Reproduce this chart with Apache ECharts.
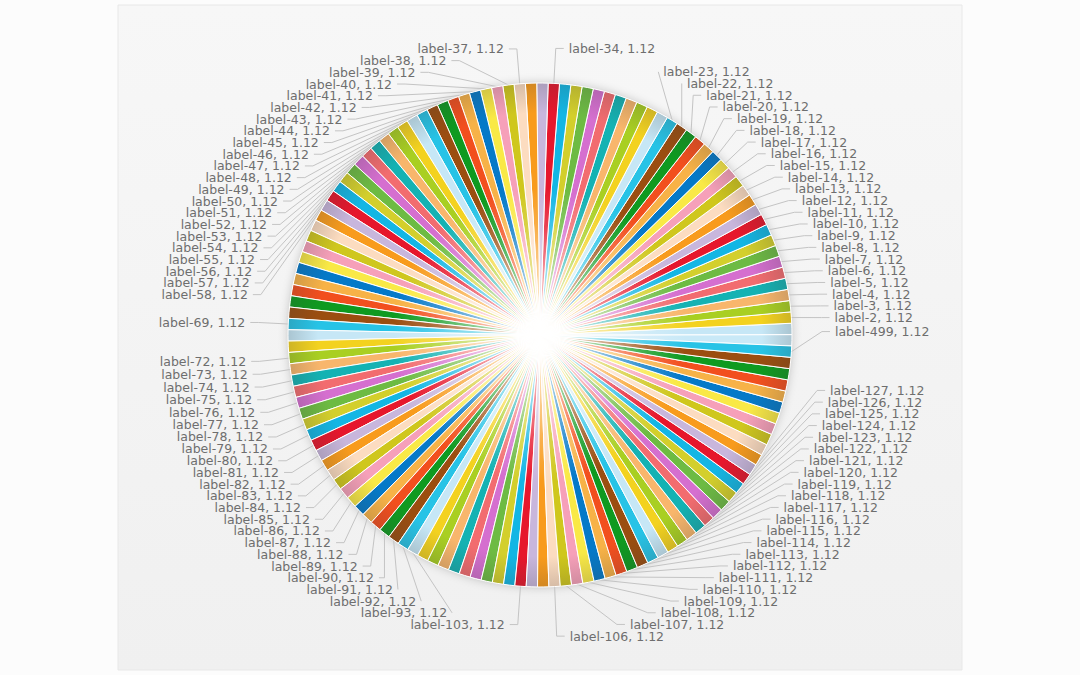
<!DOCTYPE html>
<html><head><meta charset="utf-8">
<script src="https://cdn.jsdelivr.net/npm/echarts@6/dist/echarts.min.js"></script>
<style>html,body{margin:0;padding:0;background:#fcfcfc;}#c{width:1080px;height:675px;}</style>
</head><body><div id="c"></div>
<script>
// slice names in drawing order (counter-clockwise from 3 o'clock)
const categories = [
 'label-0','label-1','label-2','label-3','label-4','label-5','label-6','label-7','label-8','label-9',
 'label-10','label-11','label-12','label-13','label-14','label-15','label-16','label-17','label-18','label-19',
 'label-20','label-21','label-22','label-23','label-24','label-25','label-26','label-27','label-28','label-29',
 'label-30','label-31','label-32','label-33','label-34','label-35','label-36','label-37','label-38','label-39',
 'label-40','label-41','label-42','label-43','label-44','label-45','label-46','label-47','label-48','label-49',
 'label-50','label-51','label-52','label-53','label-54','label-55','label-56','label-57','label-58','label-59',
 'label-60','label-61','label-62','label-63','label-64','label-65','label-66','label-67','label-68','label-69',
 'label-70','label-71','label-72','label-73','label-74','label-75','label-76','label-77','label-78','label-79',
 'label-80','label-81','label-82','label-83','label-84','label-85','label-86','label-87','label-88','label-89',
 'label-90','label-91','label-92','label-93','label-94','label-95','label-96','label-97','label-98','label-99',
 'label-100','label-101','label-102','label-103','label-104','label-105','label-106','label-107','label-108','label-109',
 'label-110','label-111','label-112','label-113','label-114','label-115','label-116','label-117','label-118','label-119',
 'label-120','label-121','label-122','label-123','label-124','label-125','label-126','label-127','label-128','label-129',
 'label-130','label-131','label-132','label-133','label-134','label-135','label-136','label-137','label-499'
];
const values = [
 1.12,1.12,1.12,1.12,1.12,1.12,1.12,1.12,1.12,1.12,
 1.12,1.12,1.12,1.12,1.12,1.12,1.12,1.12,1.12,1.12,
 1.12,1.12,1.12,1.12,1.12,1.12,1.12,1.12,1.12,1.12,
 1.12,1.12,1.12,1.12,1.12,1.12,1.12,1.12,1.12,1.12,
 1.12,1.12,1.12,1.12,1.12,1.12,1.12,1.12,1.12,1.12,
 1.12,1.12,1.12,1.12,1.12,1.12,1.12,1.12,1.12,1.12,
 1.12,1.12,1.12,1.12,1.12,1.12,1.12,1.12,1.12,1.12,
 1.12,1.12,1.12,1.12,1.12,1.12,1.12,1.12,1.12,1.12,
 1.12,1.12,1.12,1.12,1.12,1.12,1.12,1.12,1.12,1.12,
 1.12,1.12,1.12,1.12,1.12,1.12,1.12,1.12,1.12,1.12,
 1.12,1.12,1.12,1.12,1.12,1.12,1.12,1.12,1.12,1.12,
 1.12,1.12,1.12,1.12,1.12,1.12,1.12,1.12,1.12,1.12,
 1.12,1.12,1.12,1.12,1.12,1.12,1.12,1.12,1.12,1.12,
 1.12,1.12,1.12,1.12,1.12,1.12,1.12,1.12,1.12
];
// labels that are visible in the picture (the rest are suppressed)
const shownLabels = [
 'label-2','label-3','label-4','label-5','label-6','label-7','label-8','label-9','label-10','label-11',
 'label-12','label-13','label-14','label-15','label-16','label-17','label-18','label-19','label-20','label-21',
 'label-22','label-23','label-34','label-37','label-38','label-39','label-40','label-41','label-42','label-43',
 'label-44','label-45','label-46','label-47','label-48','label-49','label-50','label-51','label-52','label-53',
 'label-54','label-55','label-56','label-57','label-58','label-69','label-72','label-73','label-74','label-75',
 'label-76','label-77','label-78','label-79','label-80','label-81','label-82','label-83','label-84','label-85',
 'label-86','label-87','label-88','label-89','label-90','label-91','label-92','label-93','label-103','label-106',
 'label-107','label-108','label-109','label-110','label-111','label-112','label-113','label-114','label-115','label-116',
 'label-117','label-118','label-119','label-120','label-121','label-122','label-123','label-124','label-125','label-126',
 'label-127','label-499'
];
const palette = [
 '#27c3e6','#c6e7f6','#f3d21f','#a9cf22','#f8b66c','#14b2b3','#f26c6f','#d56fcf','#6dbb43','#d3cf2c',
 '#13b6e4','#e6172c','#c8b6dc','#f89b1d','#fcdcc0','#cfc71d','#f6a0b9','#f9e946','#0579c8','#f7b247',
 '#f24f1e','#0f9a20','#9b4e10'
];
const overrideColors = { 'label-0': '#c9e9f7' };

const CX = 540, CY = 335, R = 252;

function mix(hex, t, target) {
  const n = parseInt(hex.slice(1), 16);
  const r = (n >> 16) & 255, g = (n >> 8) & 255, b = n & 255;
  const f = (a, c) => Math.round(a + (c - a) * t);
  return 'rgb(' + f(r, target[0]) + ',' + f(g, target[1]) + ',' + f(b, target[2]) + ')';
}
function sliceColor(base) {
  return {
    type: 'radial', x: CX, y: CY, r: R, global: true,
    colorStops: [
      { offset: 0, color: '#fffaf2' },
      { offset: 0.08, color: mix(base, 0.9, [255, 250, 242]) },
      { offset: 0.22, color: mix(base, 0.6, [255, 252, 248]) },
      { offset: 0.42, color: mix(base, 0.2, [255, 255, 255]) },
      { offset: 0.58, color: base },
      { offset: 0.88, color: base },
      { offset: 1, color: mix(base, 0.2, [60, 60, 60]) }
    ]
  };
}

const pieData = categories.map((name, i) => {
  const show = shownLabels.indexOf(name) >= 0;
  const base = overrideColors[name] || palette[i % palette.length];
  return {
    name: name, value: values[i],
    itemStyle: { color: sliceColor(base) },
    label: { show: show },
    labelLine: { show: show }
  };
});

const chart = echarts.init(document.getElementById('c'), null, { renderer: 'svg' });
chart.setOption({
  backgroundColor: '#fcfcfc',
  animation: false,
  graphic: [{
    type: 'rect', z: -10, silent: true,
    shape: { x: 118, y: 5, width: 844, height: 665 },
    style: {
      fill: { type: 'linear', x: 0, y: 0, x2: 0, y2: 1, colorStops: [
        { offset: 0, color: '#f7f7f7' }, { offset: 1, color: '#f0f0f0' }] },
      stroke: '#e8e8e8', lineWidth: 1
    }
  }],
  series: [
    {
      type: 'pie', silent: true, z: 1,
      left: 0, top: 0, width: 1080, height: 642,
      center: [CX, CY], radius: R,
      label: { show: false }, labelLine: { show: false },
      itemStyle: { color: '#ffffff', shadowBlur: 10, shadowColor: 'rgba(0,0,0,0.22)' },
      emphasis: { disabled: true },
      data: [{ name: 'shadow', value: 1 }]
    },
    {
      type: 'pie', z: 2,
      left: 0, top: 0, width: 1080, height: 642,
      center: [CX, CY], radius: R,
      startAngle: -2.5, clockwise: false,
      avoidLabelOverlap: true,
      emphasis: { disabled: true },
      itemStyle: { borderColor: '#ffffff', borderWidth: 1 },
      label: {
        position: 'outside', formatter: '{b}, {c}',
        color: '#6e6e6e', fontFamily: 'DejaVu Sans', fontSize: 12.5,
        lineHeight: 12, padding: 0, minMargin: -1.3
      },
      labelLine: { length: 35, length2: 8, lineStyle: { color: '#c4c4c4', width: 1 } },
      data: pieData
    }
  ]
});
</script>
</body></html>
